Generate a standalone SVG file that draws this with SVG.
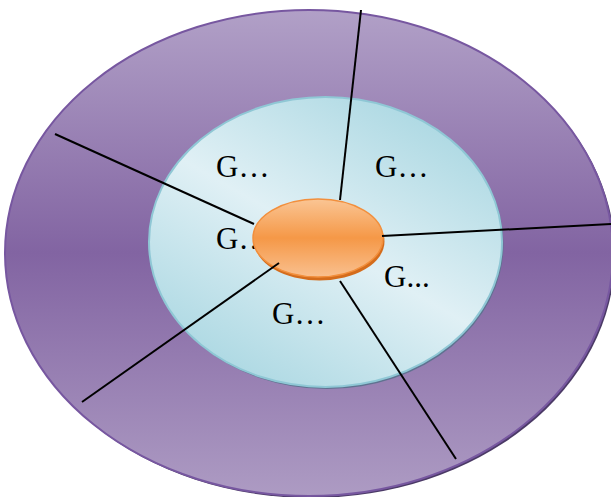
<svg xmlns="http://www.w3.org/2000/svg" width="611" height="497" viewBox="0 0 611 497">
<defs>
<linearGradient id="gOuter" x1="0" y1="0" x2="0" y2="1">
<stop offset="0" stop-color="#b1a0c7"/>
<stop offset="0.5" stop-color="#8264a2"/>
<stop offset="1" stop-color="#ad9bc3"/>
</linearGradient>
<linearGradient id="gInner" x1="0.85" y1="0" x2="0.15" y2="1">
<stop offset="0" stop-color="#a5d5e0"/>
<stop offset="0.5" stop-color="#e0f0f5"/>
<stop offset="1" stop-color="#a5d5e0"/>
</linearGradient>
<linearGradient id="gCore" x1="0" y1="0" x2="0" y2="1">
<stop offset="0" stop-color="#fac594"/>
<stop offset="0.5" stop-color="#f59847"/>
<stop offset="1" stop-color="#f9c08f"/>
</linearGradient>
<style>
.lbl{font-family:"Liberation Serif","Times New Roman",serif;font-size:31px;fill:#000}
.con{stroke:#000;stroke-width:2;fill:none}
</style>
</defs>
<g id="outer">
<ellipse cx="311" cy="255" rx="304" ry="243" fill="#4b3a66"/>
<ellipse cx="309" cy="253" rx="304" ry="243" fill="url(#gOuter)" stroke="#7757a0" stroke-width="2"/>
</g>
<g id="inner">
<ellipse cx="327" cy="244" rx="176.5" ry="145" fill="#5f7290"/>
<ellipse cx="325.5" cy="242" rx="176.5" ry="145" fill="url(#gInner)" stroke="#8fc7d5" stroke-width="2"/>
</g>
<g id="labels">
<text class="lbl" x="216" y="177">G…</text>
<text class="lbl" x="375" y="177">G…</text>
<text class="lbl" x="216" y="249">G…</text>
<text class="lbl" x="384" y="287">G...</text>
<text class="lbl" x="272" y="324">G…</text>
</g>
<g id="center">
<ellipse cx="319.5" cy="241.5" rx="65" ry="39" fill="#d46c1c"/>
<ellipse cx="318" cy="238" rx="65" ry="39" fill="url(#gCore)" stroke="#f28f3c" stroke-width="1.5"/>
</g>
<g id="connectors">
<line class="con" x1="361" y1="10" x2="340" y2="200"/>
<line class="con" x1="55" y1="134" x2="254" y2="224"/>
<line class="con" x1="611" y1="224" x2="382" y2="236"/>
<line class="con" x1="82" y1="402" x2="279" y2="263"/>
<line class="con" x1="456" y1="459" x2="340" y2="281"/>
</g>
</svg>
